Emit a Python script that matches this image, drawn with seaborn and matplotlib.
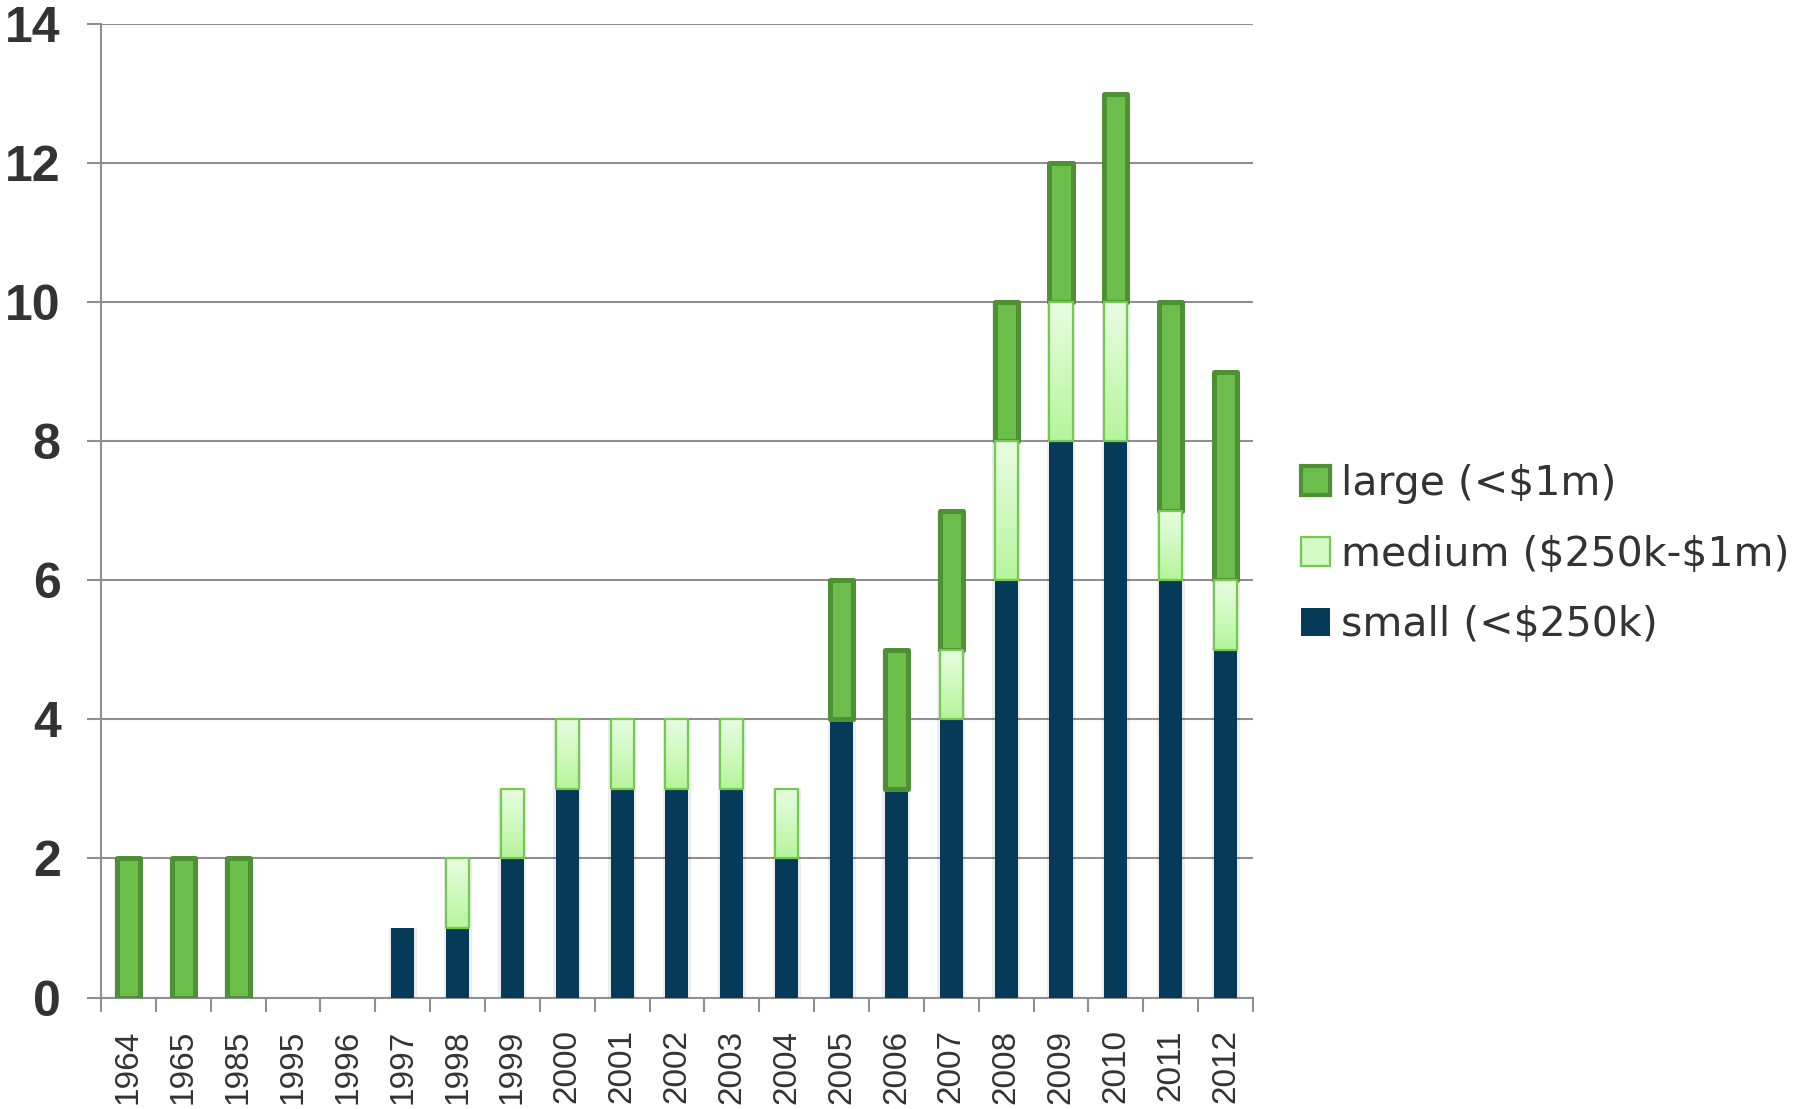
import numpy as np
import matplotlib
matplotlib.use("Agg")
import matplotlib.pyplot as plt
from matplotlib.colors import LinearSegmentedColormap
from matplotlib.patches import Patch
import seaborn as sns

# Grants per year, split by award size
years = ["1964", "1965", "1985", "1995", "1996", "1997", "1998", "1999", "2000",
         "2001", "2002", "2003", "2004", "2005", "2006", "2007", "2008", "2009",
         "2010", "2011", "2012"]
small = [0, 0, 0, 0, 0, 1, 1, 2, 3, 3, 3, 3, 2, 4, 3, 4, 6, 8, 8, 6, 5]
medium = [0, 0, 0, 0, 0, 0, 1, 1, 1, 1, 1, 1, 1, 0, 0, 1, 2, 2, 2, 1, 1]
large = [2, 2, 2, 0, 0, 0, 0, 0, 0, 0, 0, 0, 0, 2, 2, 2, 2, 2, 3, 3, 3]
series_labels = ["large (<\\$1m)", "medium (\\$250k-\\$1m)", "small (<\\$250k)"]
y_ticks = [0, 2, 4, 6, 8, 10, 12, 14]

sns.set_style("white")
plt.rcParams["font.family"] = ["Liberation Sans", "DejaVu Sans"]

SMALL_C = "#053A59"
LARGE_FACE = "#6CBE4A"
LARGE_EDGE = "#4F8F35"
MED_EDGE = "#74C94F"
MED_TOP = "#E9FDE3"
MED_BOTTOM = "#B5F59B"
GRID_C = "#8F8F8F"
TEXT_C = "#333333"

fig = plt.figure(figsize=(18.06, 11.09), dpi=100)
ax = fig.add_axes([0.0559, 0.1005, 0.6379, 0.8777])

small_a = np.array(small, dtype=float)
medium_a = np.array(medium, dtype=float)
large_a = np.array(large, dtype=float)
bar_w = 0.42

# soft shadow behind each bar
totals = small_a + medium_a + large_a
sns.barplot(x=years, y=totals, order=years, color="#000000", alpha=0.07,
            width=bar_w + 0.09, linewidth=0, ax=ax, zorder=1.5)

sns.barplot(x=years, y=small_a, order=years, color=SMALL_C, width=bar_w,
            linewidth=0, saturation=1, ax=ax, zorder=3)
n_small = len(ax.patches)
sns.barplot(x=years, y=medium_a, order=years, bottom=small_a, color=MED_BOTTOM,
            width=bar_w, edgecolor=MED_EDGE, linewidth=1.6, saturation=1,
            ax=ax, zorder=3)
n_med = len(ax.patches)
sns.barplot(x=years, y=large_a, order=years, bottom=small_a + medium_a,
            color=LARGE_FACE, width=bar_w, edgecolor=LARGE_EDGE, linewidth=3.6,
            saturation=1, ax=ax, zorder=3)

for p in ax.patches:
    if p.get_height() <= 0:
        p.set_visible(False)
    else:
        p.set_joinstyle("round")

ax.set_ylim(0, 14)
xlim = ax.get_xlim()

# vertical gradient fill for the medium segments
grad_cmap = LinearSegmentedColormap.from_list("med", [MED_BOTTOM, MED_TOP])
grad = np.linspace(0, 1, 256).reshape(-1, 1)
for p in ax.patches[n_small:n_med]:
    if not p.get_visible():
        continue
    x0, y0, w, h = p.get_x(), p.get_y(), p.get_width(), p.get_height()
    p.set_facecolor("none")
    p.set_zorder(3.2)
    im = ax.imshow(grad, cmap=grad_cmap, origin="lower", aspect="auto",
                   extent=[x0, x0 + w, y0, y0 + h], zorder=3.1,
                   interpolation="bilinear")
    im.set_clip_path(p)

ax.set_xlim(xlim)
ax.set_ylim(0, 14)
ax.set_yticks(y_ticks)
ax.set_xlabel("")
ax.set_ylabel("")

# axes, grid and ticks
ax.yaxis.grid(True, color=GRID_C, linewidth=1.5, zorder=0)
ax.set_axisbelow(True)
for s in ["top", "right"]:
    ax.spines[s].set_visible(False)
for s in ["left", "bottom"]:
    ax.spines[s].set_color(GRID_C)
    ax.spines[s].set_linewidth(1.5)

ax.set_xticks(np.arange(-0.5, len(years), 1), minor=True)
ax.tick_params(axis="x", which="minor", length=10, width=1.5, color=GRID_C,
               direction="out", bottom=True)
ax.tick_params(axis="x", which="major", length=0, pad=23, labelsize=24,
               labelcolor=TEXT_C, labelrotation=90)
ax.tick_params(axis="y", which="major", length=10, width=1.5, color=GRID_C,
               direction="out", left=True, pad=19, labelsize=36,
               labelcolor=TEXT_C)
for lab in ax.get_yticklabels():
    lab.set_fontweight("bold")
for lab in ax.get_xticklabels():
    lab.set_verticalalignment("top")

handles = [
    Patch(facecolor=LARGE_FACE, edgecolor=LARGE_EDGE, linewidth=3.0),
    Patch(facecolor="#D4FAC6", edgecolor=MED_EDGE, linewidth=1.6),
    Patch(facecolor=SMALL_C, edgecolor="none"),
]
leg = fig.legend(handles, series_labels, loc="center left",
                 bbox_to_anchor=(0.700, 0.5), frameon=False,
                 prop={"family": ["DejaVu Sans"], "size": 29.5},
                 handlelength=0.7, handleheight=0.7, handletextpad=0.28,
                 labelspacing=0.75)
for t in leg.get_texts():
    t.set_color(TEXT_C)

fig.savefig("out.png", dpi=100)
